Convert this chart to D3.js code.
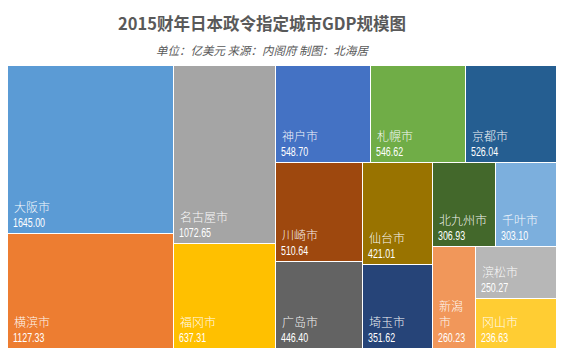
<!DOCTYPE html>
<html>
<head>
<meta charset="utf-8">
<script src="https://cdn.jsdelivr.net/npm/d3@7"></script>
<style>
  html, body { margin: 0; padding: 0; background: #ffffff; }
  svg { display: block; }
</style>
</head>
<body>
<svg id="chart" width="564" height="356"></svg>
<script>
// ---- data ----
const title = "2015财年日本政令指定城市GDP规模图";
const subtitle = "单位：亿美元 来源：内阁府 制图：北海居";
const cities = ["大阪市","横滨市","名古屋市","福冈市","神户市","札幌市","京都市","川崎市","广岛市","仙台市","埼玉市","北九州市","千叶市","新潟市","滨松市","冈山市"];
const gdp = [1645.00,1127.33,1072.65,637.31,548.70,546.62,526.04,510.64,446.40,421.01,351.62,306.93,303.10,260.23,250.27,236.63];
const colors = ["#5B9BD5","#ED7D31","#A5A5A5","#FFC000","#4472C4","#70AD47","#255E91","#9E480E","#636363","#997300","#264478","#43682B","#7CAFDD","#F1975A","#B7B7B7","#FFCD33"];

// ---- layout ----
const svg = d3.select("#chart");
const plotLeft = 8, plotTop = 66, W = 549, H = 283;

// squarify variant (rows of best aspect, with a look-ahead on the final item)
function excelSquarify(parent, x0, y0, x1, y1) {
  const nodes = parent.children, n = nodes.length;
  let i0 = 0, value = parent.value;
  while (i0 < n) {
    const dx = x1 - x0, dy = y1 - y0;
    const horiz = dx < dy;
    const L = horiz ? dx : dy, T = horiz ? dy : dx;
    const worst = (i, j) => {
      let s = 0;
      for (let k = i; k < j; k++) s += nodes[k].value;
      const thick = s / value * T;
      let w = 0;
      for (let k = i; k < j; k++) {
        const len = nodes[k].value / s * L;
        const r = Math.max(thick / len, len / thick);
        if (r > w) w = r;
      }
      return { w, s, thick };
    };
    let i1 = i0 + 1;
    let cur = worst(i0, i1).w;
    while (i1 < n) {
      const cand = worst(i0, i1 + 1);
      let cw = cand.w;
      if (n - (i1 + 1) === 1) {
        const restT = T - cand.thick;
        cw = Math.max(cw, Math.max(restT / L, L / restT));
      }
      if (cw > cur) break;
      cur = cw; i1++;
    }
    const row = nodes.slice(i0, i1);
    const s = d3.sum(row, d => d.value);
    const thick = value ? s / value * T : 0;
    const pseudo = { children: row, value: s };
    if (horiz) { d3.treemapDice(pseudo, x0, y0, x1, y0 + thick); y0 += thick; }
    else { d3.treemapSlice(pseudo, x0, y0, x0 + thick, y1); x0 += thick; }
    value -= s;
    i0 = i1;
  }
}

const data = cities.map((c, i) => ({ name: c, value: gdp[i], color: colors[i] }));
const root = d3.hierarchy({ children: data })
  .sum(d => d.value || 0)
  .sort((a, b) => b.value - a.value);

d3.treemap().tile(excelSquarify).size([W, H]).round(true)(root);

const g = svg.append("g").attr("transform", `translate(${plotLeft},${plotTop})`);
const cells = g.selectAll("g.cell").data(root.leaves()).join("g").attr("class", "cell");

cells.append("rect")
  .attr("x", d => d.x0)
  .attr("y", d => d.y0)
  .attr("width", d => Math.max(0, d.x1 - d.x0 - 1))
  .attr("height", d => Math.max(0, d.y1 - d.y0 - 1))
  .attr("fill", d => d.data.color)
  .attr("shape-rendering", "crispEdges");

const fmt = d3.format(".2f");
const charW = 12;
cells.each(function(d) {
  const cell = d3.select(this);
  const bottom = d.y1 - 1;
  const avail = d.x1 - d.x0 - 11;
  const chars = Array.from(d.data.name);
  const per = Math.max(1, Math.floor(avail / charW));
  const lines = [];
  if (chars.length * charW > avail) {
    for (let i = 0; i < chars.length; i += per) lines.push(chars.slice(i, i + per).join(""));
  } else lines.push(d.data.name);
  lines.forEach((ln, i) => {
    cell.append("text")
      .attr("x", d.x0 + 6)
      .attr("y", bottom - 21 - (lines.length - 1 - i) * 16)
      .attr("fill", "#ffffff")
      .attr("fill-opacity", 0.95)
      .attr("font-family", "'Noto Sans CJK SC', sans-serif")
      .attr("font-weight", 300)
      .attr("font-size", 12)
      .text(ln);
  });
  cell.append("text")
    .attr("transform", `translate(${d.x0 + 5},${bottom - 6.5}) scale(0.71,1)`)
    .attr("fill", "#ffffff")
    .attr("font-family", "'Liberation Sans', Arial, sans-serif")
    .attr("font-size", 12.5)
    .text(fmt(d.data.value));
});

// ---- titles ----
svg.append("text")
  .attr("x", 262).attr("y", 30)
  .attr("text-anchor", "middle")
  .attr("font-family", "'Noto Sans CJK SC', sans-serif")
  .attr("font-weight", "bold")
  .attr("font-size", 16.5)
  .attr("fill", "#595959")
  .text(title);

svg.append("text")
  .attr("x", 262).attr("y", 55)
  .attr("text-anchor", "middle")
  .attr("font-family", "'Noto Sans CJK SC', sans-serif")
  .attr("font-style", "italic")
  .attr("font-size", 11.5)
  .attr("fill", "#595959")
  .text(subtitle);
</script>
</body>
</html>
